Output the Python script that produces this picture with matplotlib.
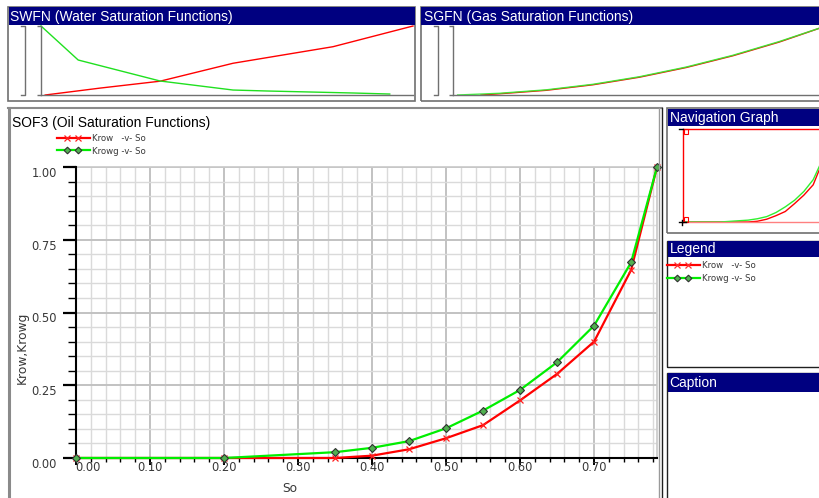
import matplotlib
matplotlib.use('Agg')
import matplotlib.pyplot as plt
from matplotlib.patches import Rectangle
from matplotlib.lines import Line2D
import matplotlib.transforms as mtransforms
from matplotlib.ticker import MultipleLocator, FixedLocator

W, H, DPI = 819, 498, 100
plt.rcParams['font.family'] = ['Liberation Sans', 'DejaVu Sans']
SMALLF = ['DejaVu Sans']

# ---------------- data ----------------
so = [0.0, 0.20, 0.35, 0.40, 0.45, 0.50, 0.55, 0.60, 0.65, 0.70, 0.75, 0.785]
krow = [0.0, 0.0, 0.0, 0.008, 0.030, 0.068, 0.113, 0.198, 0.289, 0.400, 0.646, 1.0]
krowg = [0.0, 0.0, 0.020, 0.035, 0.058, 0.102, 0.163, 0.234, 0.329, 0.455, 0.672, 1.0]
x_ticks = [0.0, 0.1, 0.2, 0.3, 0.4, 0.5, 0.6, 0.7]
x_labels = ['0.00', '0.10', '0.20', '0.30', '0.40', '0.50', '0.60', '0.70']
y_ticks = [0.0, 0.25, 0.5, 0.75, 1.0]
y_labels = ['0.00', '0.25', '0.50', '0.75', '1.00']

# SWFN (normalised)
sw_krw = [0.209, 0.327, 0.456, 0.613, 0.828, 1.0]
krw = [0.0, 0.10, 0.20, 0.46, 0.70, 1.0]
sw_pc = [0.20, 0.28, 0.456, 0.613, 0.686, 0.871, 0.95]
pcow = [1.0, 0.507, 0.203, 0.072, 0.058, 0.029, 0.014]

# SGFN (normalised)
sg_g = [0.01, 0.1, 0.2, 0.3, 0.4, 0.5, 0.6, 0.7, 0.8]
krg_g = [0.0, 0.025, 0.075, 0.155, 0.265, 0.405, 0.575, 0.775, 1.0]
sg_r = [0.06, 0.1, 0.2, 0.3, 0.4, 0.5, 0.6, 0.7, 0.8]
krg_r = [0.0, 0.018, 0.068, 0.148, 0.258, 0.398, 0.568, 0.768, 1.0]

fig = plt.figure(figsize=(W / DPI, H / DPI), dpi=DPI, facecolor='white')

NAVY = '#000080'
RED = '#ff0000'
GREEN = '#00ee00'


def frect(x0, y0, x1, y1, **kw):
    r = Rectangle((x0 / W, 1 - y1 / H), (x1 - x0) / W, (y1 - y0) / H,
                  transform=fig.transFigure, **kw)
    fig.add_artist(r)
    return r


def fline(xs, ys, **kw):
    ln = Line2D([x / W for x in xs], [1 - y / H for y in ys],
                transform=fig.transFigure, **kw)
    fig.add_artist(ln)
    return ln


def ftext(x, y, s, **kw):
    return fig.text(x / W, 1 - y / H, s, **kw)


def title_bar(x0, y0, x1, y1, text):
    frect(x0, y0, x1, y1, facecolor=NAVY, edgecolor='none', zorder=6)
    ftext(x0 + 2, (y0 + y1) / 2 + 0.5, text, color='white', fontsize=10,
          va='center', ha='left', zorder=7)


# ---------------- panels ----------------
frect(8, 7, 415, 101, edgecolor='#707070', lw=1.2, zorder=5, fill=False)
title_bar(8.5, 7, 415, 25, 'SWFN (Water Saturation Functions)')
frect(421, 7, 830, 101, edgecolor='#707070', lw=1.2, zorder=5, fill=False)
title_bar(421.5, 7, 830, 25, 'SGFN (Gas Saturation Functions)')
fline([9, 9], [108, 500], color='#8a8a8a', lw=2.2, zorder=5)
fline([8, 662], [108, 108], color='#8a8a8a', lw=1.5, zorder=5)
fline([659, 659], [108, 500], color='#9a9a9a', lw=1.0, zorder=5)
fline([662, 662], [108, 500], color='#202020', lw=1.0, zorder=5)
ftext(12, 122.5, 'SOF3 (Oil Saturation Functions)', color='black', fontsize=10,
      va='center', ha='left')
frect(667, 108, 830, 233, edgecolor='#707070', lw=1.2, fill=False, zorder=5)
title_bar(667.5, 108.5, 830, 126, 'Navigation Graph')
frect(667, 241, 830, 367, edgecolor='#202020', lw=1.0, fill=False, zorder=5)
title_bar(667.5, 241, 830, 257, 'Legend')
frect(667, 373, 830, 510, edgecolor='#202020', lw=1.0, fill=False, zorder=5)
title_bar(667.5, 373, 830, 392, 'Caption')

# ---------------- main SOF3 axes ----------------
ax = fig.add_axes([76 / W, 1 - 458 / H, 581 / W, 291 / H])
ax.set_facecolor('white')
ax.set_xlim(0, 0.785)
ax.set_ylim(0, 1)
ax.xaxis.set_major_locator(FixedLocator(x_ticks))
ax.set_xticklabels(x_labels, family=SMALLF)
ax.xaxis.set_minor_locator(MultipleLocator(0.02))
ax.yaxis.set_major_locator(FixedLocator(y_ticks))
ax.set_yticklabels(y_labels, family=SMALLF)
ax.yaxis.set_minor_locator(MultipleLocator(0.05))
ax.grid(which='minor', color='#dadada', lw=1.0)
ax.grid(which='major', color='#c2c2c2', lw=1.4)
ax.set_axisbelow(True)
for s in ['top', 'right']:
    ax.spines[s].set_color('#c8c8c8')
    ax.spines[s].set_linewidth(1.2)
for s in ['left', 'bottom']:
    ax.spines[s].set_color('black')
    ax.spines[s].set_linewidth(1.5)
    ax.spines[s].set_zorder(4)
ax.tick_params(axis='y', which='major', direction='out', length=13 * 0.72, width=1.6,
               color='black', pad=4.5, labelsize=8.3, labelcolor='#383838')
ax.tick_params(axis='y', which='minor', direction='out', length=8 * 0.72, width=1.0, color='black')
ax.tick_params(axis='x', which='major', direction='out', length=7 * 0.72, width=1.4,
               color='black', pad=-2.6, labelsize=8.3, labelcolor='#383838')
ax.tick_params(axis='x', which='minor', direction='out', length=4 * 0.72, width=1.0, color='black')

dn = mtransforms.ScaledTranslation(0, -5 / DPI, fig.dpi_scale_trans)
for lab in ax.get_yticklabels():
    lab.set_transform(lab.get_transform() + dn)
xl = ax.get_xticklabels()
xl[0].set_transform(xl[0].get_transform() + mtransforms.ScaledTranslation(12 / DPI, 0, fig.dpi_scale_trans))

ax.plot(so, krow, color=RED, lw=1.6, marker='x', ms=4.5, mew=0.9, mec='#ff2020',
        clip_on=False, zorder=5, label='Krow   -v- So')
ax.plot(so, krowg, color=GREEN, lw=1.6, marker='D', ms=3.6, mew=0.8, mfc='#50b050',
        mec='#303030', clip_on=False, zorder=6, label='Krowg -v- So')

ftext(22, 348, 'Krow,Krowg', rotation=90, fontsize=8.8, color='#383838', va='center',
      ha='center', family=SMALLF)
ftext(290, 488, 'So', fontsize=8.8, color='#383838', va='center', ha='center', family=SMALLF)

# main legend (decoration)
fline([57, 90], [138, 138], color=RED, lw=1.6, zorder=7)
fline([67, 78], [138, 138], color='#ff2020', lw=0, marker='x', ms=4, mew=0.9, zorder=8)
fline([57, 90], [150.5, 150.5], color=GREEN, lw=1.6, zorder=7)
fline([67, 78], [150.5, 150.5], lw=0, marker='D', ms=3.4, mew=0.8, mfc='#50b050', mec='#303030', zorder=8)
ftext(92, 138.5, 'Krow   -v- So', fontsize=6.2, color='#383838', va='center', ha='left', family=SMALLF)
ftext(92, 151, 'Krowg -v- So', fontsize=6.2, color='#383838', va='center', ha='left', family=SMALLF)

# side legend
fline([667, 700], [265, 265], color=RED, lw=1.6, zorder=7)
fline([677, 688], [265, 265], color='#ff3030', lw=0, marker='x', ms=4, mew=0.9, zorder=8)
fline([667, 700], [278, 278], color=GREEN, lw=1.6, zorder=7)
fline([677, 688], [278, 278], lw=0, marker='D', ms=3.4, mew=0.8, mfc='#50b050', mec='#303030', zorder=8)
ftext(702, 265.5, 'Krow   -v- So', fontsize=6.2, color='#383838', va='center', ha='left', family=SMALLF)
ftext(702, 278.5, 'Krowg -v- So', fontsize=6.2, color='#383838', va='center', ha='left', family=SMALLF)

# ---------------- navigation graph ----------------
nav = fig.add_axes([683 / W, 1 - 222 / H, 146 / W, 93 / H])
nav.set_facecolor('white')
nav.set_xlim(0, 0.785)
nav.set_ylim(0, 1)
nav.set_xticks([])
nav.set_yticks([])
nav.plot(so, krow, color=RED, lw=1.0)
nav.plot(so, krowg, color='#30f030', lw=1.0)
for s in ['left', 'top', 'bottom']:
    nav.spines[s].set_color(RED)
    nav.spines[s].set_linewidth(1.0)
nav.spines['bottom'].set_color('#ff8080')
nav.spines['right'].set_visible(False)
frect(683.5, 129.5, 688, 134, edgecolor=RED, fill=False, lw=0.8, zorder=6)
frect(683.5, 217.5, 688, 222, edgecolor=RED, fill=False, lw=0.8, zorder=6)
fline([679, 683], [129, 129], color='black', lw=1.0, zorder=6)
fline([679, 686], [222, 222], color='black', lw=1.0, zorder=6)
fline([682, 682], [220, 225], color='black', lw=1.0, zorder=6)

# ---------------- SWFN mini axes ----------------
sw_ax = fig.add_axes([41 / W, 1 - 95 / H, 372 / W, 69 / H])
sw_ax.set_xlim(0.2, 1.0)
sw_ax.set_ylim(0, 1)
sw_ax.set_xticks([])
sw_ax.set_yticks([0, 1])
sw_ax.set_yticklabels(['', ''])
sw_ax.tick_params(axis='y', length=3, color='#707070', width=1)
for s in ['top', 'right']:
    sw_ax.spines[s].set_visible(False)
for s in ['left', 'bottom']:
    sw_ax.spines[s].set_color('#707070')
    sw_ax.spines[s].set_linewidth(1.0)
sw_ax.plot(sw_krw, krw, color=RED, lw=1.0, clip_on=False)
sw_ax.plot(sw_pc, pcow, color='#20e020', lw=1.0, clip_on=False)
fline([21, 25, 25, 21], [26, 26, 95, 95], color='#707070', lw=1.0, zorder=6)

# ---------------- SGFN mini axes ----------------
sg_ax = fig.add_axes([453 / W, 1 - 95 / H, 373 / W, 69 / H])
sg_ax.set_xlim(0.0, 0.8)
sg_ax.set_ylim(0, 1)
sg_ax.set_xticks([])
sg_ax.set_yticks([0, 1])
sg_ax.set_yticklabels(['', ''])
sg_ax.tick_params(axis='y', length=3, color='#707070', width=1)
for s in ['top', 'right']:
    sg_ax.spines[s].set_visible(False)
for s in ['left', 'bottom']:
    sg_ax.spines[s].set_color('#707070')
    sg_ax.spines[s].set_linewidth(1.0)
sg_ax.plot(sg_r, krg_r, color=RED, lw=1.0, clip_on=False)
sg_ax.plot(sg_g, krg_g, color='#30f030', lw=1.0, clip_on=False, alpha=0.9)
fline([434, 438, 438, 434], [26, 26, 95, 95], color='#707070', lw=1.0, zorder=6)

fig.savefig('out.png', dpi=DPI, facecolor='white')
